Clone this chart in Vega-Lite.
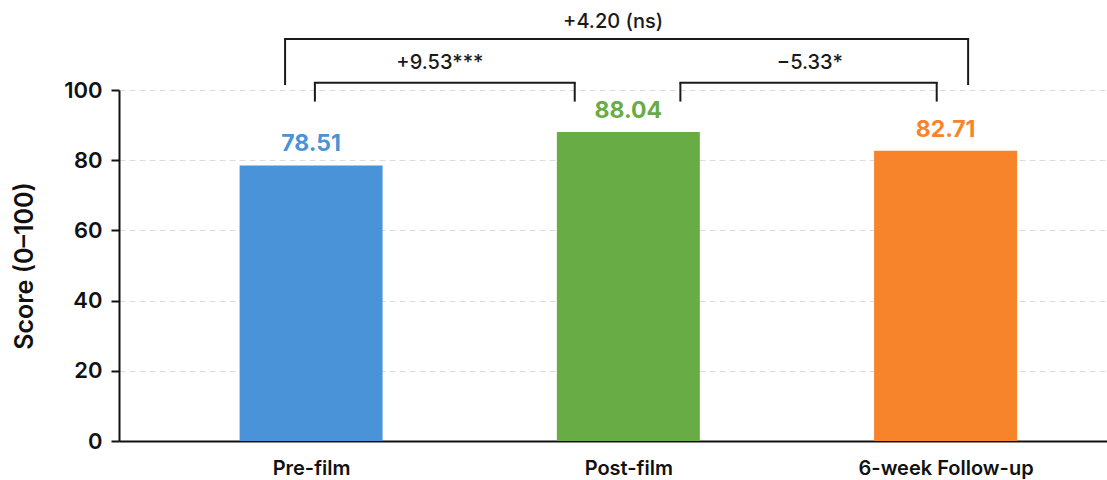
{
  "$schema": "https://vega.github.io/schema/vega-lite/v6.json",
  "width": 988,
  "height": 351,
  "autosize": {"type": "none"},
  "padding": {"left": 119, "top": 90, "right": 0, "bottom": 39},
  "background": "white",
  "config": {"view": {"stroke": null}, "font": "Inter"},
  "datasets": {
    "bars": [
      {"phase": "Pre-film", "idx": 0, "score": 78.51, "label": "78.51"},
      {"phase": "Post-film", "idx": 1, "score": 88.04, "label": "88.04"},
      {"phase": "6-week Follow-up", "idx": 2, "score": 82.71, "label": "82.71"}
    ],
    "brackets": [
      {"comparison": "Pre vs Post", "from": 0.012, "to": 0.831, "top": 102.1, "bottom": 96.7, "mid": 0.406, "ly": 107.6, "text": "+9.53***"},
      {"comparison": "Post vs Follow-up", "from": 1.164, "to": 1.972, "top": 102.1, "bottom": 96.7, "mid": 1.572, "ly": 107.6, "text": "−5.33*"},
      {"comparison": "Pre vs Follow-up", "from": -0.082, "to": 2.071, "top": 114.5, "bottom": 101.4, "mid": 0.952, "ly": 119.5, "text": "+4.20 (ns)"}
    ]
  },
  "layer": [
    {
      "data": {"name": "bars"},
      "mark": {"type": "bar", "width": 143},
      "encoding": {
        "x": {
          "field": "idx", "type": "quantitative",
          "scale": {"domain": [-0.5897, 2.493], "nice": false, "zero": false},
          "axis": {
            "values": [0, 1, 2],
            "labelExpr": "datum.value == 0 ? 'Pre-film' : datum.value == 1 ? 'Post-film' : '6-week Follow-up'",
            "title": null, "grid": false, "ticks": false,
            "domainColor": "#111111", "domainWidth": 2,
            "labelFontSize": 20, "labelFontWeight": 600, "labelColor": "#111111",
            "labelPadding": 17, "labelFlush": false
          }
        },
        "y": {
          "field": "score", "type": "quantitative",
          "scale": {"domain": [0, 100], "nice": false},
          "axis": {
            "values": [0, 20, 40, 60, 80, 100],
            "title": "Score (0–100)",
            "grid": true, "gridDash": [6, 4], "gridColor": "#dcdcdc", "gridWidth": 1,
            "domainColor": "#111111", "domainWidth": 2,
            "tickColor": "#111111", "tickWidth": 2, "tickSize": 8,
            "labelFontSize": 22, "labelFontWeight": 600, "labelColor": "#111111", "labelPadding": 9,
            "titleFontSize": 25, "titleFontWeight": 600, "titleColor": "#111111", "titlePadding": 26
          }
        },
        "color": {
          "field": "phase", "type": "nominal",
          "scale": {"domain": ["Pre-film", "Post-film", "6-week Follow-up"], "range": ["#4a93d9", "#68ac45", "#f7842a"]},
          "legend": null
        }
      }
    },
    {
      "data": {"name": "bars"},
      "mark": {"type": "text", "baseline": "middle", "align": "center", "dy": -21, "fontSize": 23, "fontWeight": 700},
      "encoding": {
        "x": {"field": "idx", "type": "quantitative", "scale": {"domain": [-0.5897, 2.493], "nice": false, "zero": false}},
        "y": {"field": "score", "type": "quantitative", "scale": {"domain": [0, 100], "nice": false}},
        "text": {"field": "label"},
        "color": {"field": "phase", "type": "nominal", "legend": null}
      }
    },
    {
      "data": {"name": "brackets"},
      "mark": {"type": "rule", "strokeWidth": 2, "color": "#1a1a1a"},
      "encoding": {
        "x": {"field": "from", "type": "quantitative", "scale": {"domain": [-0.5897, 2.493], "nice": false, "zero": false}},
        "y": {"field": "bottom", "type": "quantitative", "scale": {"domain": [0, 100], "nice": false}},
        "y2": {"field": "top"}
      }
    },
    {
      "data": {"name": "brackets"},
      "mark": {"type": "rule", "strokeWidth": 2, "color": "#1a1a1a"},
      "encoding": {
        "x": {"field": "to", "type": "quantitative", "scale": {"domain": [-0.5897, 2.493], "nice": false, "zero": false}},
        "y": {"field": "bottom", "type": "quantitative", "scale": {"domain": [0, 100], "nice": false}},
        "y2": {"field": "top"}
      }
    },
    {
      "data": {"name": "brackets"},
      "mark": {"type": "rule", "strokeWidth": 2, "color": "#1a1a1a", "strokeCap": "square"},
      "encoding": {
        "x": {"field": "from", "type": "quantitative", "scale": {"domain": [-0.5897, 2.493], "nice": false, "zero": false}},
        "x2": {"field": "to"},
        "y": {"field": "top", "type": "quantitative", "scale": {"domain": [0, 100], "nice": false}}
      }
    },
    {
      "data": {"name": "brackets"},
      "mark": {"type": "text", "baseline": "middle", "align": "center", "fontSize": 20, "fontWeight": 500, "color": "#1a1a1a"},
      "encoding": {
        "x": {"field": "mid", "type": "quantitative", "scale": {"domain": [-0.5897, 2.493], "nice": false, "zero": false}},
        "y": {"field": "ly", "type": "quantitative", "scale": {"domain": [0, 100], "nice": false}},
        "text": {"field": "text"}
      }
    }
  ]
}
